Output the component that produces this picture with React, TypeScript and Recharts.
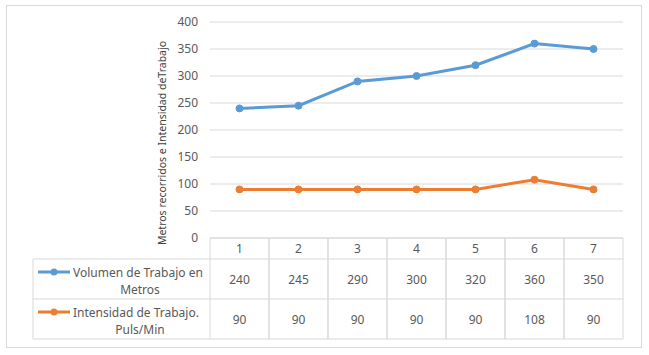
import React from 'react';
import { LineChart, Line, XAxis, YAxis, CartesianGrid } from 'recharts';

const categories = ['1', '2', '3', '4', '5', '6', '7'];
const volumen = [240, 245, 290, 300, 320, 360, 350];
const intensidad = [90, 90, 90, 90, 90, 108, 90];
const yTicks = [0, 50, 100, 150, 200, 250, 300, 350, 400];
const seriesLines = [
  ['Volumen de Trabajo en', 'Metros'],
  ['Intensidad de Trabajo.', 'Puls/Min'],
];
const yTitle = 'Metros recorridos e Intensidad deTrabajo';

const BLUE = '#5B9BD5';
const ORANGE = '#ED7D31';
const GRID = '#D9D9D9';
const TEXT = '#595959';
const FONT = '"Noto Sans", sans-serif';

const PLOT_LEFT = 210;
const PLOT_RIGHT = 623;
const COL_W = (PLOT_RIGHT - PLOT_LEFT) / categories.length;
const LEGEND_LEFT = 33;
const ROW_H = [21, 40, 40];

const data = categories.map((c, i) => ({
  name: c,
  volumen: volumen[i],
  intensidad: intensidad[i],
}));

const TableTick: React.FC<any> = ({ x, y, payload, index }) => {
  const left = x - COL_W / 2;
  const r1 = y + ROW_H[0];
  const r2 = r1 + ROW_H[1];
  const r3 = r2 + ROW_H[2];
  const vals = [volumen[index], intensidad[index]];
  return (
    <g fontFamily={FONT} fontSize={12} fill={TEXT}>
      <line x1={left} y1={y} x2={left} y2={r3} stroke={GRID} />
      <line x1={left + COL_W} y1={y} x2={left + COL_W} y2={r3} stroke={GRID} />
      <line x1={left} y1={r1} x2={left + COL_W} y2={r1} stroke={GRID} />
      <line x1={left} y1={r2} x2={left + COL_W} y2={r2} stroke={GRID} />
      <line x1={left} y1={r3} x2={left + COL_W} y2={r3} stroke={GRID} />
      <text x={x} y={y + ROW_H[0] / 2} textAnchor="middle" dominantBaseline="central">
        {payload.value}
      </text>
      <text x={x} y={r1 + ROW_H[1] / 2} textAnchor="middle" dominantBaseline="central">
        {vals[0]}
      </text>
      <text x={x} y={r2 + ROW_H[2] / 2} textAnchor="middle" dominantBaseline="central">
        {vals[1]}
      </text>
      {index === 0 && (
        <g>
          <line x1={LEGEND_LEFT} y1={r1} x2={left} y2={r1} stroke={GRID} />
          <line x1={LEGEND_LEFT} y1={r2} x2={left} y2={r2} stroke={GRID} />
          <line x1={LEGEND_LEFT} y1={r3} x2={left} y2={r3} stroke={GRID} />
          <line x1={LEGEND_LEFT} y1={r1} x2={LEGEND_LEFT} y2={r3} stroke={GRID} />
          {[r1, r2].map((top, k) => {
            const color = k === 0 ? BLUE : ORANGE;
            const ly = top + 13;
            return (
              <g key={k}>
                <line x1={38} y1={ly} x2={70} y2={ly} stroke={color} strokeWidth={3} />
                <circle cx={54} cy={ly} r={3.5} fill={color} />
                <text x={73} y={ly} dominantBaseline="central">
                  {seriesLines[k][0]}
                </text>
                <text x={140} y={ly + 17} textAnchor="middle" dominantBaseline="central">
                  {seriesLines[k][1]}
                </text>
              </g>
            );
          })}
        </g>
      )}
    </g>
  );
};

const YTitle: React.FC<any> = () => (
  <text
    x={162}
    y={143}
    transform="rotate(-90 162 143)"
    textAnchor="middle"
    dominantBaseline="central"
    fontFamily={FONT}
    fontSize={10.5}
    fill="#404040"
  >
    {yTitle}
  </text>
);

export default function App() {
  return (
    <div style={{ position: 'absolute', left: 0, top: 0, width: 649, height: 355, background: '#fff' }}>
      <div
        style={{
          position: 'absolute',
          left: 6,
          top: 5,
          width: 634,
          height: 341,
          border: `1px solid ${GRID}`,
        }}
      />
      <div style={{ position: 'absolute', left: 0, top: 0 }}>
        <LineChart
          width={649}
          height={355}
          data={data}
          margin={{ top: 22, right: 649 - PLOT_RIGHT, left: PLOT_LEFT - 70, bottom: 17 }}
        >
          <CartesianGrid vertical={false} stroke={GRID} />
          <XAxis
            dataKey="name"
            height={100}
            padding={{ left: COL_W / 2, right: COL_W / 2 }}
            axisLine={{ stroke: GRID }}
            tickLine={false}
            tickSize={0}
            tickMargin={0}
            interval={0}
            tick={<TableTick />}
          />
          <YAxis
            width={70}
            domain={[0, 400]}
            ticks={yTicks}
            axisLine={false}
            tickLine={false}
            tickSize={0}
            tickMargin={12}
            tick={{ fill: TEXT, fontSize: 12, fontFamily: FONT }}
            label={<YTitle />}
          />
          <Line
            dataKey="volumen"
            stroke={BLUE}
            strokeWidth={3}
            dot={{ r: 3.5, fill: BLUE, stroke: BLUE, strokeWidth: 1 }}
            isAnimationActive={false}
          />
          <Line
            dataKey="intensidad"
            stroke={ORANGE}
            strokeWidth={3}
            dot={{ r: 3.5, fill: ORANGE, stroke: ORANGE, strokeWidth: 1 }}
            isAnimationActive={false}
          />
        </LineChart>
      </div>
    </div>
  );
}
